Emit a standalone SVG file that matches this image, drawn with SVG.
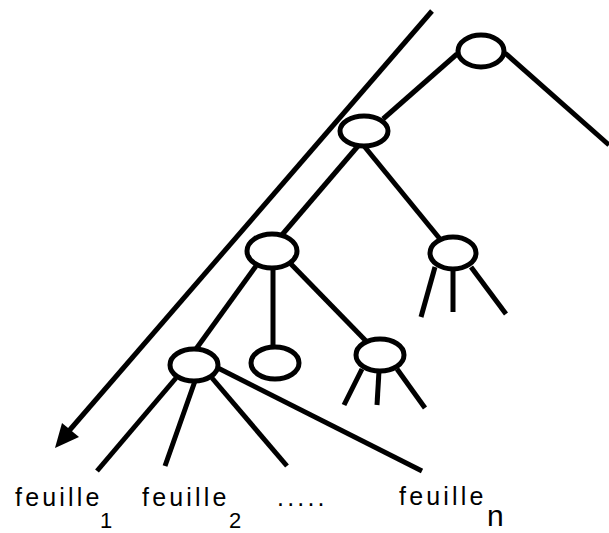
<svg xmlns="http://www.w3.org/2000/svg" width="609" height="533" viewBox="0 0 609 533">
<style>
.e{stroke:#000;stroke-width:5;fill:none;stroke-linecap:butt}
.n{fill:#fff;stroke:#000;stroke-width:5}
.t{font-family:"Liberation Sans",Arial,sans-serif;font-size:25px;letter-spacing:3.2px;fill:#000}
.s{font-family:"Liberation Sans",Arial,sans-serif;font-size:22px;fill:#000}
</style>
<rect width="609" height="533" fill="#fff"/>
<g id="connectors">
<line class="e" x1="432" y1="11" x2="68" y2="432"/>
<polygon points="55,448 62,423 79,437" fill="#000"/>
<line class="e" x1="505" y1="53" x2="609" y2="145"/>
<line class="e" x1="457" y1="54" x2="383" y2="119"/>
<line class="e" x1="358" y1="146" x2="281" y2="236"/>
<line class="e" x1="364" y1="146" x2="440" y2="239"/>
<line class="e" x1="435" y1="267" x2="421" y2="317"/>
<line class="e" x1="453" y1="270" x2="453" y2="312"/>
<line class="e" x1="471" y1="267" x2="506" y2="314"/>
<line class="e" x1="256" y1="266" x2="196" y2="349"/>
<line class="e" x1="273" y1="268" x2="273" y2="347"/>
<line class="e" x1="290" y1="263" x2="366" y2="341"/>
<line class="e" x1="362" y1="369" x2="344" y2="405"/>
<line class="e" x1="379" y1="371" x2="377" y2="405"/>
<line class="e" x1="397" y1="369" x2="425" y2="408"/>
<line class="e" x1="176" y1="378" x2="97" y2="471"/>
<line class="e" x1="195" y1="381" x2="165" y2="466"/>
<line class="e" x1="212" y1="378" x2="287" y2="466"/>
<line class="e" x1="216" y1="367" x2="422" y2="471"/>
</g>
<g id="root"><ellipse class="n" cx="481" cy="51" rx="23" ry="16"/></g>
<g id="node2"><ellipse class="n" cx="364" cy="131" rx="24" ry="15"/></g>
<g id="node3"><ellipse class="n" cx="272" cy="251" rx="25" ry="17"/></g>
<g id="node4"><ellipse class="n" cx="453" cy="253" rx="23" ry="16"/></g>
<g id="node5"><ellipse class="n" cx="380" cy="355" rx="24" ry="16"/></g>
<g id="node6"><ellipse class="n" cx="275" cy="363" rx="24" ry="16"/></g>
<g id="node7"><ellipse class="n" cx="194" cy="365" rx="24" ry="16"/></g>
<g id="labels">
<text class="t" x="15" y="506">feuille</text>
<text class="s" x="100" y="528">1</text>
<text class="t" x="142" y="506">feuille</text>
<text class="s" x="229" y="528">2</text>
<text class="t" x="277" y="506">.....</text>
<text class="t" x="399" y="505">feuille</text>
<text class="s" x="487" y="526" style="font-size:30px">n</text>
</g>
</svg>
